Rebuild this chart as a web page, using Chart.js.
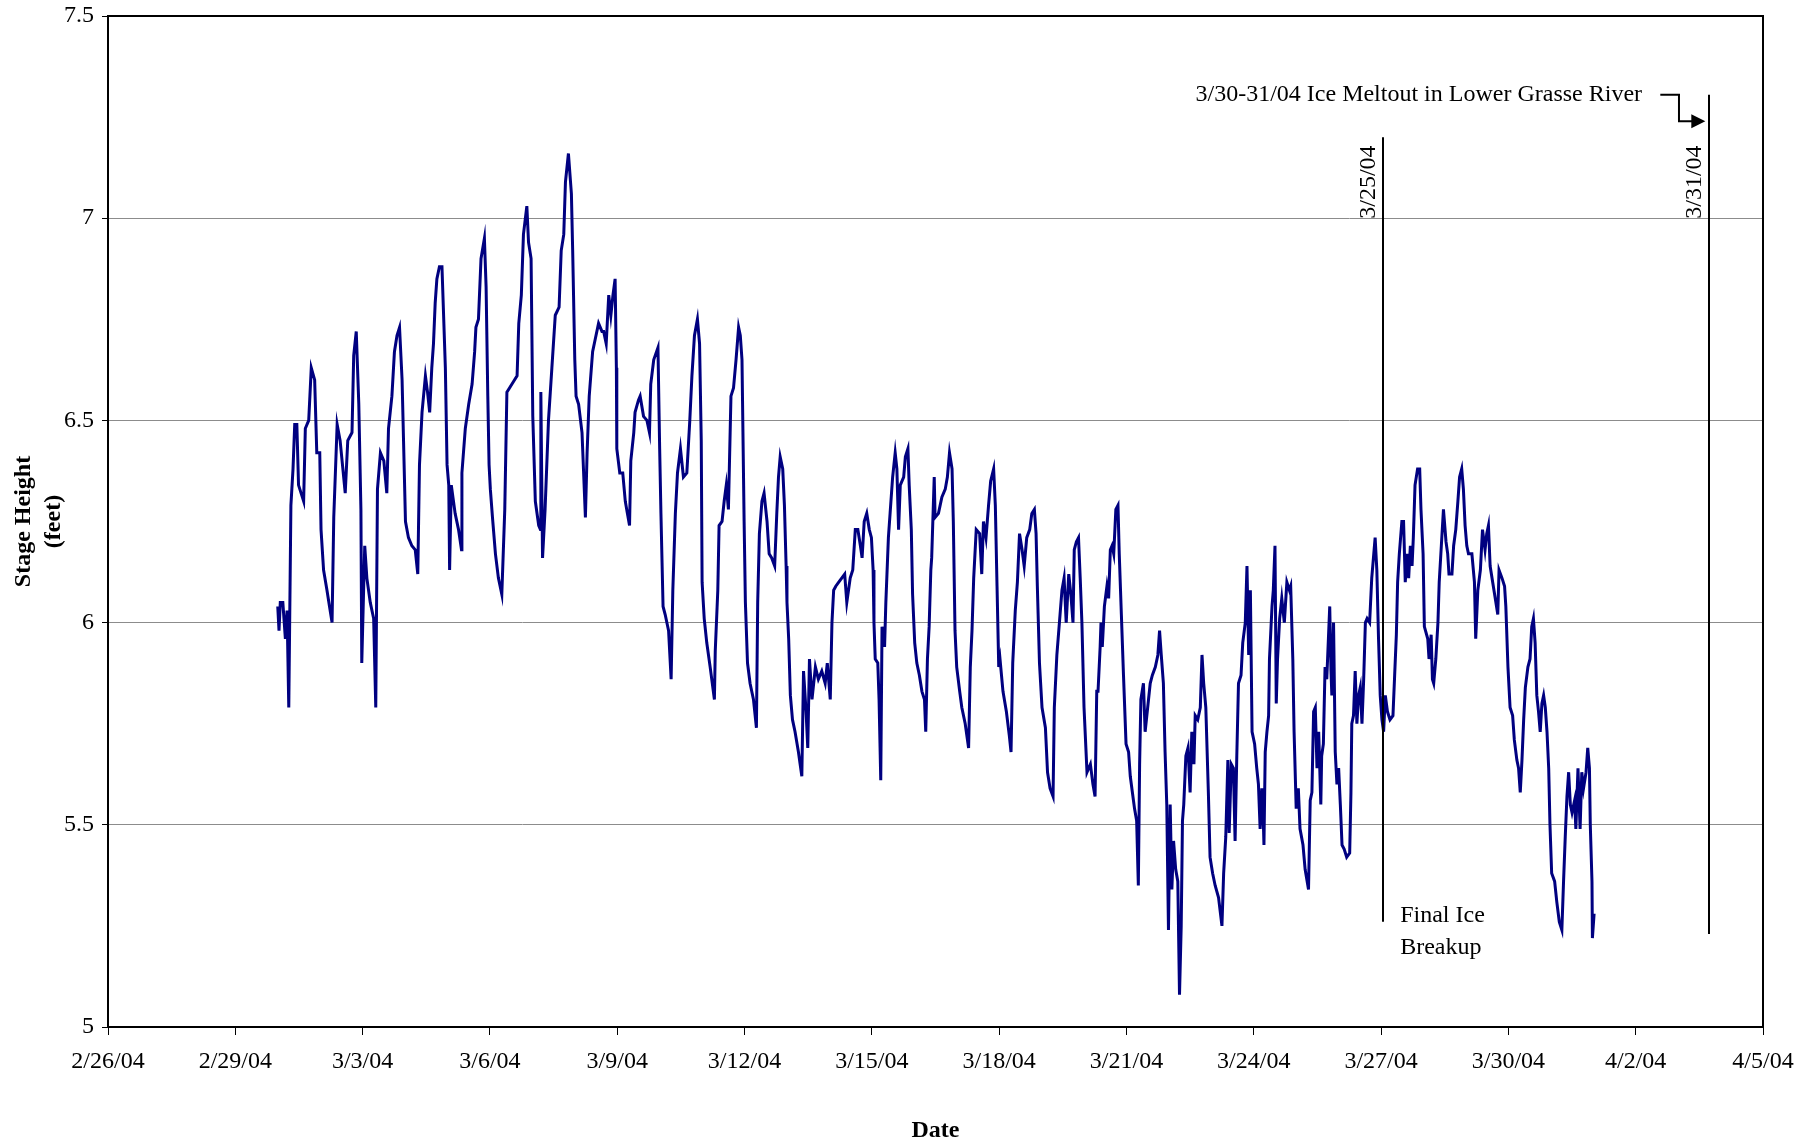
<!DOCTYPE html>
<html lang="en">
<head>
    <meta charset="UTF-8">
    <title>Stage Height - Lower Grasse River</title>
    <script src="https://cdn.jsdelivr.net/npm/chart.js"></script>
    <style>
        html, body {
            margin: 0;
            padding: 0;
            background: #ffffff;
        }
        #wrap {
            width: 1816px;
            height: 1146px;
            position: relative;
        }
    </style>
</head>
<body>
    <div id="wrap"><canvas id="myChart"></canvas></div>

    <script>
        // x = days since 2/26/04 00:00, y = stage height (feet)
        const stageDays = [
            4.00, 4.03, 4.06, 4.12, 4.18, 4.22, 4.26, 4.31, 4.36, 4.40, 4.45, 4.49, 4.61, 4.65, 4.73, 4.79, 4.87, 4.92, 4.99, 5.02,
            5.08, 5.16, 5.22, 5.28, 5.32, 5.40, 5.47, 5.59, 5.65, 5.75, 5.79, 5.85, 5.91, 5.96, 5.98, 6.05, 6.10, 6.18, 6.26, 6.31,
            6.35, 6.42, 6.50, 6.57, 6.61, 6.69, 6.75, 6.81, 6.87, 6.93, 7.01, 7.08, 7.16, 7.24, 7.30, 7.34, 7.40, 7.48, 7.53, 7.58,
            7.63, 7.67, 7.71, 7.75, 7.81, 7.87, 7.95, 7.99, 8.03, 8.05, 8.09, 8.18, 8.26, 8.33, 8.34, 8.42, 8.50, 8.58, 8.64, 8.67,
            8.73, 8.79, 8.87, 8.91, 8.95, 8.98, 9.01, 9.06, 9.13, 9.20, 9.28, 9.35, 9.40, 9.52, 9.64, 9.68, 9.74, 9.79, 9.87, 9.91,
            9.97, 10.01, 10.07, 10.15, 10.19, 10.20, 10.24, 10.30, 10.38, 10.46, 10.54, 10.63, 10.68, 10.74, 10.78, 10.85, 10.92, 10.95, 11.00, 11.03,
            11.09, 11.17, 11.25, 11.29, 11.34, 11.42, 11.48, 11.56, 11.64, 11.68, 11.74, 11.80, 11.85, 11.90, 11.95, 11.98, 11.99, 12.06, 12.13, 12.19,
            12.24, 12.29, 12.32, 12.39, 12.42, 12.50, 12.54, 12.62, 12.70, 12.76, 12.79, 12.86, 12.96, 13.00, 13.03, 13.08, 13.13, 13.21, 13.27, 13.31,
            13.37, 13.42, 13.49, 13.56, 13.64, 13.71, 13.76, 13.82, 13.89, 13.94, 13.98, 14.00, 14.05, 14.11, 14.19, 14.29, 14.31, 14.37, 14.40, 14.47,
            14.52, 14.57, 14.62, 14.68, 14.74, 14.80, 14.86, 14.90, 14.94, 14.99, 15.02, 15.07, 15.13, 15.21, 15.28, 15.31, 15.35, 15.41, 15.46, 15.53,
            15.58, 15.64, 15.71, 15.76, 15.80, 15.84, 15.90, 15.94, 15.98, 16.00, 16.04, 16.08, 16.13, 16.19, 16.27, 16.35, 16.39, 16.45, 16.49, 16.53,
            16.59, 16.67, 16.74, 16.82, 16.90, 16.95, 17.02, 17.06, 17.10, 17.15, 17.22, 17.29, 17.36, 17.41, 17.49, 17.55, 17.61, 17.67, 17.73, 17.77,
            17.82, 17.88, 17.94, 17.99, 18.03, 18.05, 18.08, 18.14, 18.17, 18.21, 18.24, 18.30, 18.33, 18.39, 18.43, 18.49, 18.55, 18.59, 18.63, 18.67,
            18.75, 18.79, 18.85, 18.88, 18.93, 18.96, 19.01, 19.06, 19.12, 19.18, 19.24, 19.27, 19.31, 19.35, 19.39, 19.41, 19.47, 19.49, 19.57, 19.65,
            19.73, 19.78, 19.83, 19.89, 19.92, 19.96, 20.00, 20.07, 20.12, 20.20, 20.28, 20.32, 20.36, 20.40, 20.46, 20.54, 20.59, 20.63, 20.69, 20.75,
            20.80, 20.87, 20.91, 20.95, 20.99, 21.02, 21.09, 21.17, 21.24, 21.28, 21.32, 21.38, 21.43, 21.48, 21.54, 21.59, 21.65, 21.72, 21.77, 21.83,
            21.87, 21.90, 21.95, 22.01, 22.09, 22.14, 22.20, 22.27, 22.30, 22.36, 22.42, 22.48, 22.53, 22.58, 22.64, 22.69, 22.74, 22.77, 22.82, 22.87,
            22.91, 22.95, 23.00, 23.07, 23.15, 23.21, 23.26, 23.30, 23.33, 23.38, 23.40, 23.43, 23.48, 23.54, 23.58, 23.62, 23.66, 23.70, 23.75, 23.80,
            23.83, 23.88, 23.93, 23.99, 24.05, 24.09, 24.14, 24.19, 24.24, 24.28, 24.31, 24.34, 24.40, 24.44, 24.50, 24.56, 24.61, 24.68, 24.74, 24.78,
            24.82, 24.87, 24.91, 24.95, 24.99, 25.03, 25.07, 25.11, 25.16, 25.21, 25.25, 25.29, 25.32, 25.35, 25.40, 25.45, 25.50, 25.54, 25.59, 25.62,
            25.68, 25.74, 25.78, 25.82, 25.87, 25.93, 25.97, 26.03, 26.09, 26.17, 26.25, 26.29, 26.34, 26.39, 26.42, 26.47, 26.52, 26.56, 26.60, 26.64,
            26.70, 26.74, 26.80, 26.84, 26.88, 26.92, 26.96, 27.02, 27.07, 27.11, 27.15, 27.19, 27.23, 27.24, 27.27, 27.31, 27.35, 27.37, 27.43, 27.46,
            27.50, 27.53, 27.56, 27.61, 27.66, 27.72, 27.78, 27.84, 27.87, 27.92, 27.95, 28.00, 28.05, 28.09, 28.16, 28.21, 28.29, 28.33, 28.37, 28.41,
            28.45, 28.49, 28.53, 28.58, 28.60, 28.64, 28.68, 28.72, 28.79, 28.82, 28.84, 28.88, 28.92, 28.96, 29.00, 29.04, 29.08, 29.13, 29.19, 29.26,
            29.29, 29.31, 29.35, 29.39, 29.43, 29.47, 29.51, 29.55, 29.59, 29.63, 29.67, 29.73, 29.78, 29.82, 29.86, 29.90, 29.94, 29.98, 30.02, 30.06,
            30.10, 30.15, 30.21, 30.28, 30.32, 30.36, 30.39, 30.43, 30.49, 30.53, 30.57, 30.61, 30.65, 30.69, 30.73, 30.76, 30.80, 30.86, 30.91, 30.94,
            30.99, 31.02, 31.10, 31.13, 31.18, 31.21, 31.24, 31.29, 31.34, 31.37, 31.42, 31.47, 31.53, 31.57, 31.60, 31.67, 31.71, 31.76, 31.81, 31.85,
            31.90, 31.94, 31.98, 32.02, 32.06, 32.14, 32.20, 32.23, 32.28, 32.34, 32.39, 32.45, 32.49, 32.53, 32.57, 32.63, 32.69, 32.75, 32.78, 32.85,
            32.91, 32.94, 32.99, 33.04, 33.10, 33.14, 33.20, 33.24, 33.28, 33.32, 33.36, 33.40, 33.46, 33.51, 33.55, 33.59, 33.63, 33.67, 33.71, 33.75,
            33.79, 33.83, 33.87, 33.91, 33.95, 33.98, 34.02, 34.09, 34.14, 34.20, 34.26, 34.30, 34.34, 34.38, 34.42, 34.46, 34.50, 34.56, 34.59, 34.64,
            34.69, 34.73, 34.77, 34.83, 34.87, 34.91, 34.93, 34.97, 34.98, 35.02
        ];
        const stageFeet = [
            6.04, 5.98, 6.05, 6.05, 5.96, 6.03, 5.79, 6.29, 6.38, 6.49, 6.49, 6.34, 6.30, 6.48, 6.50, 6.63, 6.60, 6.42, 6.42, 6.23,
            6.13, 6.08, 6.04, 6.00, 6.26, 6.49, 6.45, 6.32, 6.45, 6.47, 6.66, 6.72, 6.54, 6.28, 5.90, 6.19, 6.11, 6.05, 6.01, 5.79,
            6.33, 6.42, 6.40, 6.32, 6.48, 6.56, 6.67, 6.71, 6.73, 6.60, 6.25, 6.21, 6.19, 6.18, 6.12, 6.39, 6.52, 6.61, 6.57, 6.52,
            6.63, 6.69, 6.79, 6.85, 6.88, 6.88, 6.63, 6.39, 6.34, 6.13, 6.34, 6.27, 6.23, 6.18, 6.37, 6.48, 6.54, 6.59, 6.67, 6.73,
            6.75, 6.90, 6.95, 6.83, 6.56, 6.39, 6.33, 6.26, 6.17, 6.11, 6.07, 6.28, 6.57, 6.59, 6.61, 6.74, 6.81, 6.96, 7.03, 6.94,
            6.90, 6.51, 6.30, 6.24, 6.23, 6.57, 6.16, 6.28, 6.50, 6.63, 6.76, 6.78, 6.92, 6.96, 7.09, 7.16, 7.06, 6.92, 6.65, 6.56,
            6.54, 6.47, 6.26, 6.42, 6.56, 6.67, 6.70, 6.74, 6.72, 6.72, 6.69, 6.81, 6.76, 6.81, 6.85, 6.63, 6.43, 6.37, 6.37, 6.30,
            6.27, 6.24, 6.40, 6.47, 6.52, 6.55, 6.56, 6.51, 6.50, 6.47, 6.59, 6.65, 6.68, 6.43, 6.27, 6.04, 6.02, 5.98, 5.86, 6.08,
            6.27, 6.37, 6.43, 6.36, 6.37, 6.50, 6.61, 6.71, 6.75, 6.69, 6.45, 6.10, 6.01, 5.95, 5.89, 5.81, 5.93, 6.08, 6.24, 6.25,
            6.30, 6.34, 6.28, 6.56, 6.58, 6.65, 6.73, 6.71, 6.65, 6.25, 6.05, 5.90, 5.85, 5.81, 5.74, 6.05, 6.22, 6.30, 6.32, 6.25,
            6.17, 6.16, 6.14, 6.27, 6.36, 6.41, 6.38, 6.29, 6.14, 6.05, 5.96, 5.82, 5.76, 5.73, 5.68, 5.62, 5.88, 5.78, 5.69, 5.91,
            5.81, 5.89, 5.86, 5.88, 5.85, 5.90, 5.81, 6.00, 6.08, 6.09, 6.10, 6.11, 6.12, 6.05, 6.11, 6.13, 6.23, 6.23, 6.19, 6.16,
            6.25, 6.27, 6.23, 6.21, 6.13, 6.00, 5.91, 5.90, 5.81, 5.61, 5.99, 5.94, 6.05, 6.21, 6.27, 6.36, 6.42, 6.38, 6.23, 6.34,
            6.36, 6.41, 6.43, 6.34, 6.23, 6.07, 5.95, 5.90, 5.87, 5.83, 5.81, 5.73, 5.91, 5.99, 6.13, 6.16, 6.36, 6.26, 6.27, 6.31,
            6.33, 6.36, 6.42, 6.38, 6.25, 5.98, 5.89, 5.83, 5.79, 5.75, 5.69, 5.89, 5.98, 6.11, 6.23, 6.22, 6.12, 6.25, 6.21, 6.29,
            6.35, 6.38, 6.29, 6.09, 5.89, 5.91, 5.83, 5.78, 5.72, 5.68, 5.90, 6.03, 6.10, 6.22, 6.18, 6.14, 6.21, 6.23, 6.27, 6.28,
            6.22, 6.09, 5.90, 5.79, 5.74, 5.63, 5.59, 5.57, 5.79, 5.92, 6.00, 6.08, 6.11, 6.00, 6.12, 6.07, 6.00, 6.18, 6.20, 6.21,
            6.11, 6.00, 5.79, 5.63, 5.65, 5.60, 5.57, 5.83, 5.83, 5.94, 6.00, 5.94, 6.04, 6.09, 6.06, 6.18, 6.19, 6.17, 6.28, 6.29,
            6.17, 6.02, 5.87, 5.70, 5.68, 5.62, 5.58, 5.54, 5.51, 5.35, 5.65, 5.81, 5.85, 5.73, 5.79, 5.85, 5.87, 5.89, 5.92, 5.98,
            5.92, 5.85, 5.68, 5.55, 5.24, 5.55, 5.34, 5.46, 5.39, 5.36, 5.08, 5.25, 5.51, 5.55, 5.67, 5.69, 5.58, 5.73, 5.65, 5.77,
            5.76, 5.79, 5.92, 5.85, 5.79, 5.58, 5.42, 5.38, 5.35, 5.32, 5.25, 5.38, 5.47, 5.66, 5.48, 5.65, 5.64, 5.46, 5.67, 5.85,
            5.87, 5.95, 6.00, 6.14, 5.92, 6.08, 5.73, 5.70, 5.64, 5.60, 5.49, 5.59, 5.49, 5.45, 5.68, 5.73, 5.77, 5.91, 6.04, 6.08,
            6.19, 5.80, 5.91, 6.01, 6.06, 6.00, 6.10, 6.08, 6.09, 5.91, 5.73, 5.54, 5.59, 5.49, 5.45, 5.39, 5.34, 5.56, 5.58, 5.78,
            5.79, 5.64, 5.73, 5.55, 5.67, 5.70, 5.89, 5.86, 6.04, 5.88, 5.82, 6.00, 5.68, 5.60, 5.64, 5.55, 5.45, 5.44, 5.42, 5.43,
            5.58, 5.75, 5.77, 5.88, 5.75, 5.82, 5.84, 5.75, 5.86, 6.00, 6.01, 6.00, 6.11, 6.16, 6.21, 6.13, 5.96, 5.82, 5.76, 5.73,
            5.82, 5.78, 5.76, 5.77, 5.87, 5.97, 6.10, 6.17, 6.25, 6.25, 6.10, 6.17, 6.11, 6.19, 6.14, 6.21, 6.34, 6.38, 6.38, 6.28,
            6.17, 5.99, 5.96, 5.91, 5.97, 5.86, 5.85, 5.91, 6.00, 6.10, 6.19, 6.28, 6.20, 6.17, 6.12, 6.12, 6.19, 6.23, 6.30, 6.36,
            6.38, 6.33, 6.24, 6.19, 6.17, 6.17, 6.10, 5.96, 6.08, 6.13, 6.23, 6.18, 6.22, 6.24, 6.14, 6.10, 6.06, 6.02, 6.13, 6.11,
            6.09, 6.04, 5.89, 5.79, 5.77, 5.71, 5.66, 5.64, 5.58, 5.66, 5.76, 5.84, 5.89, 5.91, 5.99, 6.01, 5.95, 5.82, 5.78, 5.73,
            5.80, 5.82, 5.79, 5.73, 5.64, 5.50, 5.38, 5.36, 5.31, 5.26, 5.24, 5.36, 5.47, 5.57, 5.63, 5.55, 5.53, 5.56, 5.49, 5.64,
            5.49, 5.63, 5.59, 5.63, 5.69, 5.64, 5.50, 5.36, 5.22, 5.28
        ];

        // x axis tick labels, one every 3 days starting at 2/26/04
        const dateLabels = ['2/26/04', '2/29/04', '3/3/04', '3/6/04', '3/9/04', '3/12/04', '3/15/04',
            '3/18/04', '3/21/04', '3/24/04', '3/27/04', '3/30/04', '4/2/04', '4/5/04'];

        const serif = "'Liberation Serif', 'Times New Roman', serif";

        // annotations (days since 2/26/04, feet)
        const breakupLine = { x: 30.05, yTop: 7.20, yBottom: 5.26, label: '3/25/04' };
        const meltoutLine = { x: 37.73, yTop: 7.305, yBottom: 5.23, label: '3/31/04' };

        const annotationPlugin = {
            id: 'annotations',
            afterDraw(chart) {
                const ctx = chart.ctx;
                const xs = chart.scales.x;
                const ys = chart.scales.y;
                const area = chart.chartArea;

                ctx.save();
                // plot frame
                ctx.strokeStyle = '#000';
                ctx.lineWidth = 2;
                ctx.strokeRect(area.left, area.top, area.right - area.left, area.bottom - area.top);

                // vertical marker lines
                ctx.lineWidth = 2;
                [breakupLine, meltoutLine].forEach(l => {
                    const px = Math.round(xs.getPixelForValue(l.x));
                    ctx.beginPath();
                    ctx.moveTo(px, ys.getPixelForValue(l.yTop));
                    ctx.lineTo(px, ys.getPixelForValue(l.yBottom));
                    ctx.stroke();

                    // rotated date next to the line
                    ctx.save();
                    ctx.translate(px - 14, ys.getPixelForValue(7.18));
                    ctx.rotate(-Math.PI / 2);
                    ctx.font = '24px ' + serif;
                    ctx.fillStyle = '#000';
                    ctx.textAlign = 'right';
                    ctx.textBaseline = 'middle';
                    ctx.fillText(l.label, 0, 0);
                    ctx.restore();
                });

                // meltout text + bent arrow
                ctx.font = '24px ' + serif;
                ctx.fillStyle = '#000';
                ctx.textAlign = 'right';
                ctx.textBaseline = 'middle';
                const textY = ys.getPixelForValue(7.305);
                ctx.fillText('3/30-31/04 Ice Meltout in Lower Grasse River', xs.getPixelForValue(36.15), textY);

                const ax0 = xs.getPixelForValue(36.58);
                const ax1 = xs.getPixelForValue(37.02);
                const ay1 = ys.getPixelForValue(7.24);
                const tip = xs.getPixelForValue(37.64);
                ctx.lineWidth = 2;
                ctx.beginPath();
                ctx.moveTo(ax0, textY);
                ctx.lineTo(ax1, textY);
                ctx.lineTo(ax1, ay1);
                ctx.lineTo(tip - 12, ay1);
                ctx.stroke();
                ctx.beginPath();
                ctx.moveTo(tip, ay1);
                ctx.lineTo(tip - 14, ay1 - 7);
                ctx.lineTo(tip - 14, ay1 + 7);
                ctx.closePath();
                ctx.fill();

                // final ice breakup note
                ctx.textAlign = 'left';
                ctx.fillText('Final Ice', xs.getPixelForValue(30.45), ys.getPixelForValue(5.275));
                ctx.fillText('Breakup', xs.getPixelForValue(30.45), ys.getPixelForValue(5.195));

                // axis titles
                ctx.font = 'bold 24px ' + serif;
                ctx.textAlign = 'center';
                ctx.fillText('Date', (area.left + area.right) / 2, 1131);

                const midY = (area.top + area.bottom) / 2;
                ctx.save();
                ctx.translate(24, midY);
                ctx.rotate(-Math.PI / 2);
                ctx.fillText('Stage Height', 0, 0);
                ctx.restore();
                ctx.save();
                ctx.translate(54, midY);
                ctx.rotate(-Math.PI / 2);
                ctx.fillText('(feet)', 0, 0);
                ctx.restore();

                ctx.restore();
            }
        };

        const points = stageDays.map((d, i) => ({ x: d, y: stageFeet[i] }));

        const ctx = document.getElementById('myChart').getContext('2d');
        const myChart = new Chart(ctx, {
            type: 'line',
            data: {
                datasets: [{
                    label: 'Stage Height',
                    data: points,
                    borderColor: '#000080',
                    borderWidth: 3,
                    pointRadius: 0,
                    tension: 0,
                    fill: false
                }]
            },
            options: {
                responsive: true,
                maintainAspectRatio: false,
                animation: false,
                layout: {
                    padding: { left: 0, top: 16, right: 53, bottom: 0 }
                },
                plugins: {
                    legend: { display: false },
                    tooltip: { enabled: false }
                },
                scales: {
                    x: {
                        type: 'linear',
                        min: 0,
                        max: 39,
                        afterFit: axis => {
                            axis.height = 119;
                            axis.paddingLeft = 0;
                            axis.paddingRight = 0;
                        },
                        ticks: {
                            stepSize: 3,
                            autoSkip: false,
                            maxRotation: 0,
                            padding: 12,
                            color: '#000',
                            font: { family: serif, size: 24 },
                            callback: v => dateLabels[Math.round(v / 3)]
                        },
                        grid: {
                            drawOnChartArea: false,
                            tickLength: 8,
                            color: '#000',
                            lineWidth: 1
                        },
                        border: { color: '#000', width: 2 }
                    },
                    y: {
                        min: 5,
                        max: 7.5,
                        afterFit: axis => {
                            axis.width = 108;
                            axis.paddingTop = 0;
                            axis.paddingBottom = 0;
                        },
                        ticks: {
                            stepSize: 0.5,
                            padding: 8,
                            color: '#000',
                            font: { family: serif, size: 24 },
                            callback: v => String(v)
                        },
                        grid: {
                            color: '#8c8c8c',
                            lineWidth: 1,
                            tickLength: 6,
                            tickColor: '#000'
                        },
                        border: { color: '#000', width: 2 }
                    }
                }
            },
            plugins: [annotationPlugin]
        });
    </script>
</body>
</html>
